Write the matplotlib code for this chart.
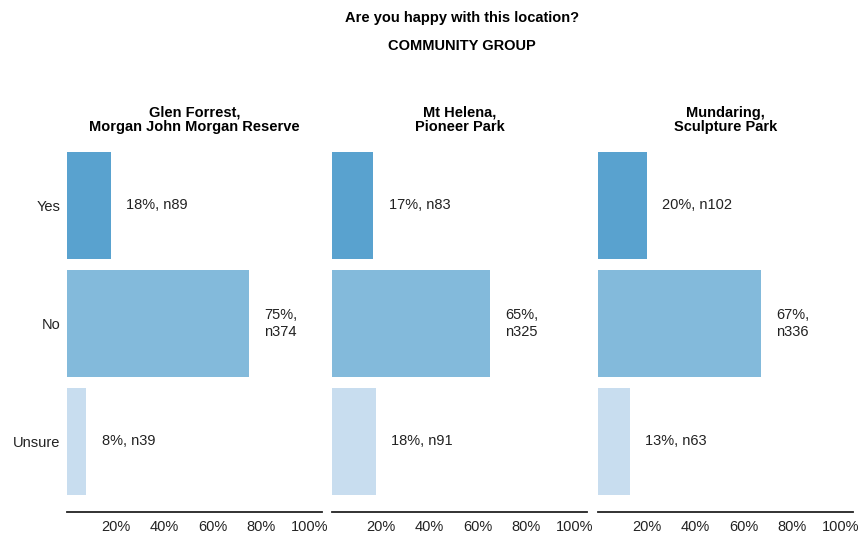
import matplotlib.pyplot as plt

plt.rcParams['font.family'] = ['Liberation Sans', 'DejaVu Sans']

# Survey responses per location
answers = ['Yes', 'No', 'Unsure']
locations = ['Glen Forrest,\nMorgan John Morgan Reserve',
             'Mt Helena,\nPioneer Park',
             'Mundaring,\nSculpture Park']
percents = [[18, 75, 8],
            [17, 65, 18],
            [20, 67, 13]]
counts = [[89, 374, 39],
          [83, 325, 91],
          [102, 336, 63]]
labels = [['18%, n89', '75%,\nn374', '8%, n39'],
          ['17%, n83', '65%,\nn325', '18%, n91'],
          ['20%, n102', '67%,\nn336', '13%, n63']]
ticks = [20, 40, 60, 80, 100]
tick_labels = ['20%', '40%', '60%', '80%', '100%']

colors = ['#59a2cf', '#83badb', '#c8ddef']

fig = plt.figure(figsize=(8.64, 5.35), dpi=100)
lefts = [67 / 864, 332 / 864, 598 / 864]

for k in range(3):
    ax = fig.add_axes([lefts[k], 23 / 535, 255 / 864, 365.8 / 535])
    ax.barh(range(3), percents[k], height=0.91, color=colors)
    for i in range(3):
        ax.annotate(labels[k][i], (percents[k][i], i), xytext=(11, 0),
                    textcoords='offset points', va='center', ha='left',
                    fontsize=10.5, color='#222222', linespacing=1.25)
    ax.set_xlim(0, 105)
    ax.set_ylim(2.6, -0.5)
    ax.set_xticks(ticks)
    ax.set_xticklabels(tick_labels, fontsize=10.5, color='#222222')
    ax.tick_params(axis='x', length=0, pad=6)
    if k == 0:
        ax.set_yticks(range(3))
        ax.set_yticklabels(answers, fontsize=10.5, color='#222222')
        ax.tick_params(axis='y', length=0, pad=5)
    else:
        ax.set_yticks([])
    for s in ['top', 'right', 'left']:
        ax.spines[s].set_visible(False)
    ax.spines['bottom'].set_linewidth(1.3)
    ax.spines['bottom'].set_color('#222222')
    ax.set_title(locations[k], fontsize=10.5, fontweight='bold', pad=11,
                 linespacing=1.02)

fig.text(0.535, 1 - 18 / 535, 'Are you happy with this location?',
         ha='center', va='center', fontsize=10.5, fontweight='bold')
fig.text(0.535, 1 - 46 / 535, 'COMMUNITY GROUP',
         ha='center', va='center', fontsize=10.5, fontweight='bold')

fig.savefig('out.png', dpi=100)
